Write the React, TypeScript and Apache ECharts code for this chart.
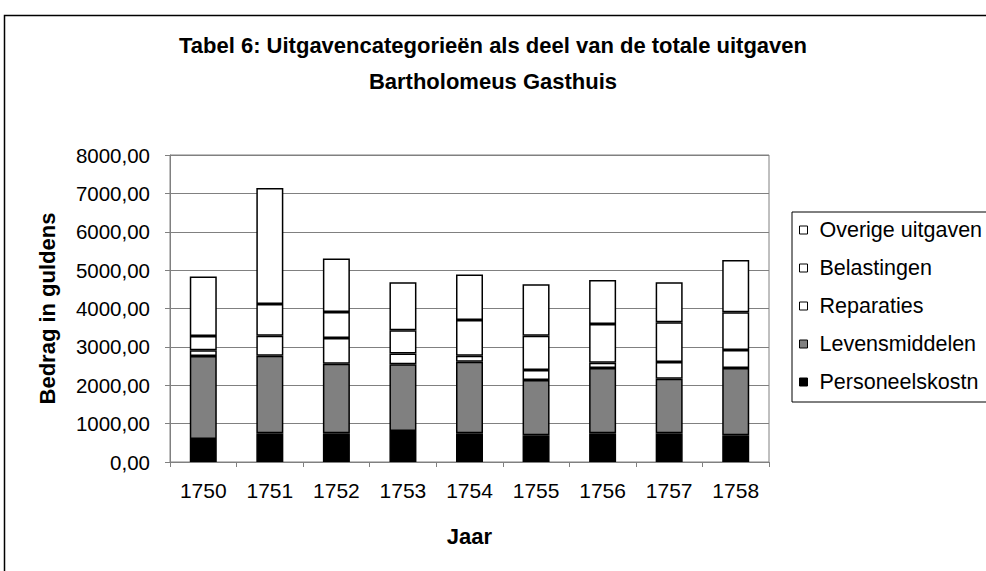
import React, { useEffect, useRef } from "react";
import * as echarts from "echarts";

const years = ["1750", "1751", "1752", "1753", "1754", "1755", "1756", "1757", "1758"];
const personeelskostn = [600, 750, 750, 805, 750, 700, 750, 750, 700];
const levensmiddelen = [2160, 2020, 1810, 1740, 1860, 1440, 1700, 1420, 1750];
const reparaties = [155, 520, 670, 280, 156, 260, 138, 433, 468];
const belastingen = [370, 830, 680, 610, 935, 890, 1005, 1040, 987];
const overige = [1550, 3020, 1390, 1250, 1187, 1340, 1151, 1039, 1358];

const legendOrder = ["Overige uitgaven", "Belastingen", "Reparaties", "Levensmiddelen", "Personeelskostn"];

const FONT = '"Liberation Sans", Arial, sans-serif';

export default function App() {
  const ref = useRef<HTMLDivElement>(null);
  useEffect(() => {
    if (!ref.current) return;
    const chart = echarts.init(ref.current, null, { renderer: "svg" });
    const mk = (name: string, data: number[], color: string) => ({
      name,
      type: "bar",
      stack: "total",
      data,
      barWidth: 27,
      itemStyle: { color, borderColor: "#000", borderWidth: 1.5 },
    });
    chart.setOption({
      animation: false,
      backgroundColor: "#fff",
      textStyle: { fontFamily: FONT },
      title: {
        text: "Tabel 6: Uitgavencategorieën als deel van de totale uitgaven\nBartholomeus Gasthuis",
        left: "center",
        top: 27,
        padding: 0,
        textStyle: { fontFamily: FONT, fontSize: 22, fontWeight: "bold", color: "#000", lineHeight: 36 },
      },
      graphic: [
        {
          type: "rect",
          shape: { x: 4.5, y: 15.5, width: 1100, height: 700 },
          style: { fill: "none", stroke: "#000", lineWidth: 1.5 },
          silent: true,
        },
      ],
      legend: {
        orient: "vertical",
        left: 792,
        top: 212,
        padding: [7, 40, 9, 7],
        borderColor: "#000",
        borderWidth: 1,
        itemWidth: 8,
        itemHeight: 8,
        itemGap: 16,
        icon: "rect",
        data: legendOrder,
        itemStyle: { borderColor: "#000", borderWidth: 1 },
        textStyle: { fontFamily: FONT, fontSize: 21.5, lineHeight: 21, color: "#000", padding: [0, 0, 0, 7] },
      },
      grid: {
        left: 170,
        top: 155,
        right: 217,
        bottom: 109,
        show: true,
        borderColor: "#808080",
        borderWidth: 1,
        backgroundColor: "#fff",
      },
      xAxis: {
        type: "category",
        data: years,
        name: "Jaar",
        nameLocation: "middle",
        nameGap: 63,
        nameTextStyle: { fontFamily: FONT, fontSize: 22, fontWeight: "bold", color: "#000" },
        axisLine: { lineStyle: { color: "#808080", width: 1 } },
        axisTick: { show: true, length: 5, lineStyle: { color: "#808080" } },
        axisLabel: { fontFamily: FONT, fontSize: 21, color: "#000", margin: 18 },
      },
      yAxis: {
        type: "value",
        min: 0,
        max: 8000,
        interval: 1000,
        name: "Bedrag in guldens",
        nameLocation: "middle",
        nameRotate: 90,
        nameGap: 112,
        nameTextStyle: { fontFamily: FONT, fontSize: 22, fontWeight: "bold", color: "#000" },
        axisLine: { show: true, lineStyle: { color: "#808080", width: 1 } },
        axisTick: { show: true, length: 5, lineStyle: { color: "#808080" } },
        axisLabel: {
          fontFamily: FONT,
          fontSize: 20.5,
          color: "#000",
          margin: 20,
          formatter: (v: number) => v.toFixed(2).replace(".", ","),
        },
        splitLine: { lineStyle: { color: "#808080", width: 1 } },
      },
      series: [
        mk("Personeelskostn", personeelskostn, "#000000"),
        mk("Levensmiddelen", levensmiddelen, "#808080"),
        mk("Reparaties", reparaties, "#ffffff"),
        mk("Belastingen", belastingen, "#ffffff"),
        mk("Overige uitgaven", overige, "#ffffff"),
      ],
    });
    return () => chart.dispose();
  }, []);
  return (
    <div
      ref={ref}
      style={{ position: "fixed", left: 0, top: 0, width: 986, height: 571 }}
    />
  );
}
